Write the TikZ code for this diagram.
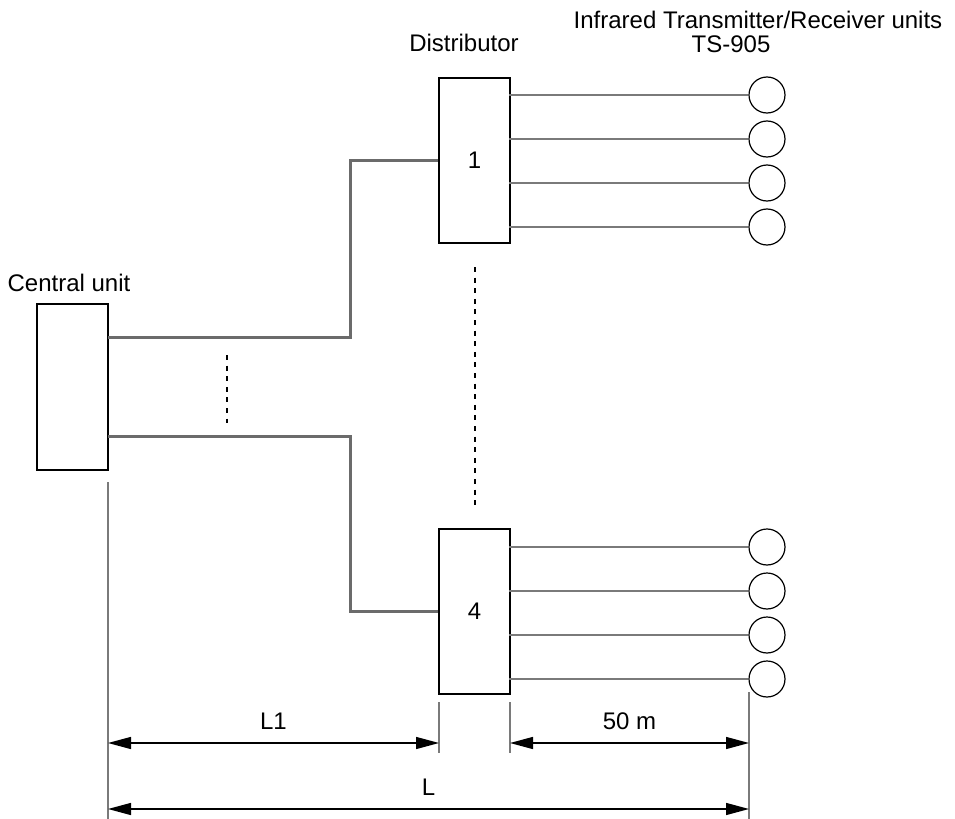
\documentclass[tikz,border=0pt]{standalone}
\usepackage{fontspec}
\setmainfont{Liberation Sans}
\usetikzlibrary{arrows.meta,positioning}
\definecolor{cableGray}{HTML}{6B6B6B}
\definecolor{lineGray}{HTML}{7A7A7A}

\begin{document}
\begin{tikzpicture}[
    x=0.5pt, y=-0.5pt,
    font=\fontsize{12}{14}\selectfont,
    unitbox/.style={draw, line width=0.7pt, rectangle, minimum width=35.5pt, minimum height=82.5pt, inner sep=0pt},
    txunit/.style={draw, line width=0.6pt, circle, minimum size=18pt, inner sep=0pt},
    lbl/.style={inner sep=1pt},
    cable/.style={draw=cableGray, line width=1.5pt},
    branch/.style={draw=lineGray, line width=1pt},
    dots/.style={line width=1.3pt, dash pattern=on 2.5pt off 2.8pt},
    extline/.style={draw=lineGray, line width=0.6pt},
    dimarrow/.style={{Triangle[length=11.5pt,width=6pt]}-{Triangle[length=11.5pt,width=6pt]}, line width=0.7pt}
]
    \useasboundingbox (0,0) rectangle (955,819);

    % units
    \node[unitbox, minimum height=83pt] (central) at (72.5,387) {};
    \node[unitbox] (dist1) at (474.5,160.5) {1};
    \node[unitbox] (dist4) at (474.5,611.5) {4};

    \node[lbl] (lblcentral) at (69,283) {Central unit};
    \node[lbl] (lbldist) at (464,43) {Distributor};
    \node[lbl] (lblir) at (758,20) {Infrared Transmitter/Receiver units};
    \node[lbl] (lblts) at (731,44) {TS-905};

    % transmitter/receiver units
    \foreach \y [count=\i] in {95,139,183,227} {
        \node[txunit] (ta\i) at (767,\y) {};
        \draw[branch] (dist1.west |- ta\i) ++(71,0) -- (ta\i.west);
    }
    \foreach \y [count=\i] in {547,591,635,679} {
        \node[txunit] (tb\i) at (767,\y) {};
        \draw[branch] (dist4.west |- tb\i) ++(71,0) -- (tb\i.west);
    }

    % cables from central unit
    \coordinate (cup) at (108,337);
    \coordinate (cdown) at (108,436);
    \draw[cable] (cup) -- (350,337) |- (dist1.west);
    \draw[cable] (cdown) -- (350,436) |- (dist4.west);

    % omitted lines
    \coordinate (dota) at (227,355);
    \coordinate (dotb) at (227,423);
    \draw[dots] (dota) -- (dotb);
    \coordinate (dotc) at (475,267);
    \coordinate (dotd) at (475,507);
    \draw[dots] (dotc) -- (dotd);

    % dimensions
    \coordinate (e1top) at (108,482);
    \coordinate (e1bot) at (108,819);
    \coordinate (e2top) at (439,702);
    \coordinate (e2bot) at (439,753);
    \coordinate (e3top) at (510,702);
    \coordinate (e3bot) at (510,753);
    \coordinate (e4top) at (749,692);
    \coordinate (e4bot) at (749,819);
    \draw[extline] (e1top) -- (e1bot);
    \draw[extline] (e2top) -- (e2bot);
    \draw[extline] (e3top) -- (e3bot);
    \draw[extline] (e4top) -- (e4bot);

    \draw[dimarrow] (e1top |- 0,743) -- node[above=3pt] (lbll1) {L1} (e2top |- 0,743);
    \draw[dimarrow] (e3top |- 0,743) -- node[above=3pt] (lbl50) {50 m} (e4top |- 0,743);
    \draw[dimarrow] (e1top |- 0,809) -- node[above=3pt] (lbll) {L} (e4top |- 0,809);
\end{tikzpicture}
\end{document}
